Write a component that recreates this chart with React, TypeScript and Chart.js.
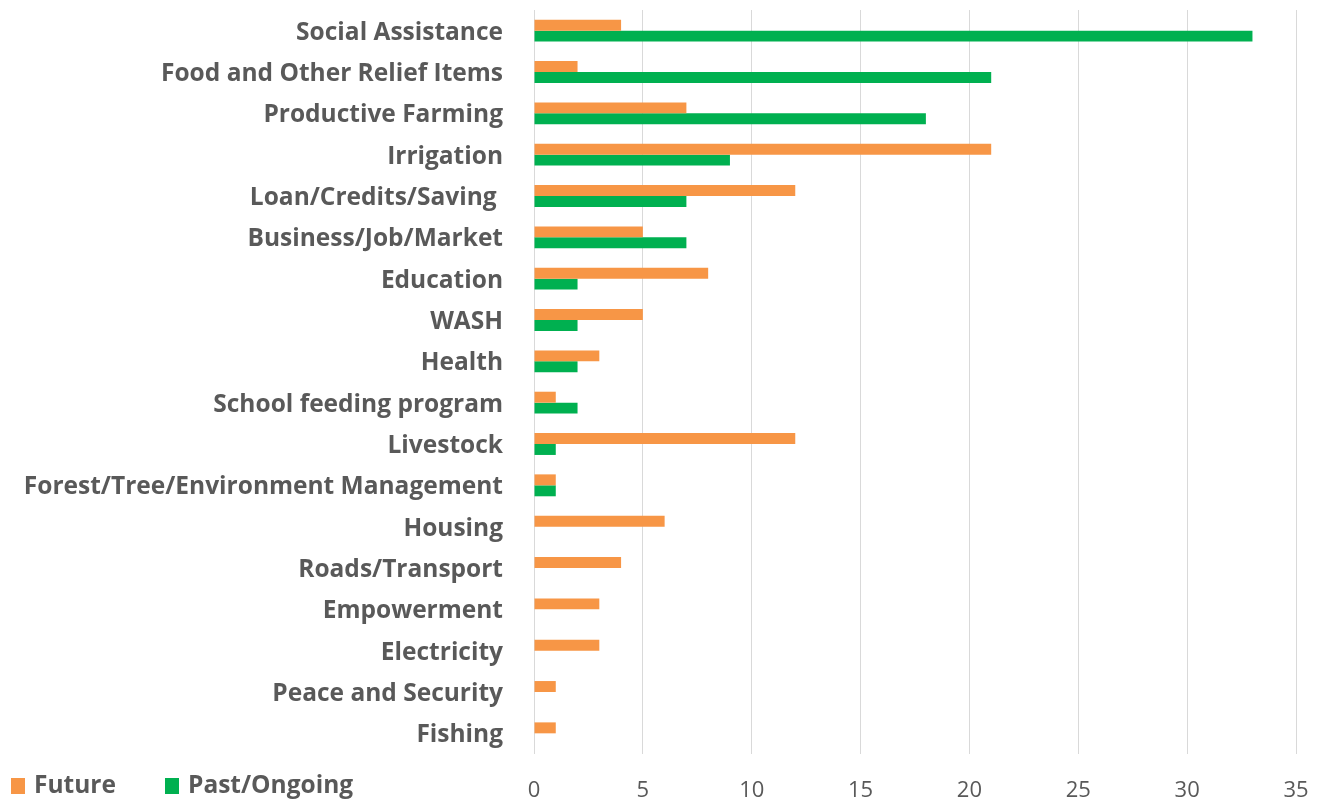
import React, { useEffect, useRef } from "react";
import { Chart, registerables } from "chart.js";

Chart.register(...registerables);

const categories = [
  "Social Assistance",
  "Food and Other Relief Items",
  "Productive Farming",
  "Irrigation",
  "Loan/Credits/Saving ",
  "Business/Job/Market",
  "Education",
  "WASH",
  "Health",
  "School feeding program",
  "Livestock",
  "Forest/Tree/Environment Management",
  "Housing",
  "Roads/Transport",
  "Empowerment",
  "Electricity",
  "Peace and Security",
  "Fishing",
];

const futureValues = [4, 2, 7, 21, 12, 5, 8, 5, 3, 1, 12, 1, 6, 4, 3, 3, 1, 1];
const pastValues = [33, 21, 18, 9, 7, 7, 2, 2, 2, 2, 1, 1, null, null, null, null, null, null];

const seriesLabels = ["Future", "Past/Ongoing"];
const seriesColors = ["#F79646", "#00B050"];

const xTicks = [0, 5, 10, 15, 20, 25, 30, 35];

const FONT = "'Open Sans', Lato, sans-serif";
const TEXT_COLOR = "#595959";

const bottomLegend = {
  id: "bottomLegend",
  afterDraw(chart: any) {
    const ctx = chart.ctx;
    const y = 786;
    const items = [
      { x: 11, textX: 34 },
      { x: 165, textX: 188 },
    ];
    ctx.save();
    ctx.font = `bold 24.5px ${FONT}`;
    ctx.textBaseline = "middle";
    ctx.textAlign = "left";
    chart.data.datasets.forEach((ds: any, i: number) => {
      const it = items[i];
      ctx.fillStyle = ds.backgroundColor;
      ctx.fillRect(it.x, y - 8, 14, 16);
      ctx.fillStyle = TEXT_COLOR;
      ctx.fillText(ds.label, it.textX, y);
    });
    ctx.restore();
  },
};

export default function App() {
  const canvasRef = useRef<HTMLCanvasElement | null>(null);

  useEffect(() => {
    if (!canvasRef.current) return;
    const chart = new Chart(canvasRef.current, {
      type: "bar",
      data: {
        labels: categories,
        datasets: [
          {
            label: seriesLabels[0],
            data: futureValues,
            backgroundColor: seriesColors[0],
            borderWidth: 0,
            categoryPercentage: 0.53,
            barPercentage: 1,
          },
          {
            label: seriesLabels[1],
            data: pastValues,
            backgroundColor: seriesColors[1],
            borderWidth: 0,
            categoryPercentage: 0.53,
            barPercentage: 1,
          },
        ],
      },
      options: {
        indexAxis: "y",
        responsive: true,
        maintainAspectRatio: false,
        animation: false,
        layout: { padding: { top: 10, right: 27, bottom: 0, left: 0 } },
        plugins: {
          legend: { display: false },
          tooltip: { enabled: false },
        },
        scales: {
          x: {
            min: 0,
            max: 35,
            afterBuildTicks(scale: any) {
              scale.ticks = xTicks.map((v) => ({ value: v }));
            },
            afterFit(scale: any) {
              scale.height = 49;
              scale.paddingTop = 0;
              scale.paddingBottom = 0;
              scale.paddingLeft = 0;
              scale.paddingRight = 0;
            },
            grid: { color: "#D9D9D9", lineWidth: 1, drawTicks: false },
            border: { display: false },
            ticks: {
              color: TEXT_COLOR,
              font: { family: FONT, size: 22 },
              padding: 24,
            },
          },
          y: {
            afterFit(scale: any) {
              scale.width = 534;
              scale.paddingTop = 0;
              scale.paddingBottom = 0;
            },
            grid: { display: false, drawTicks: false },
            border: { display: false },
            ticks: {
              color: TEXT_COLOR,
              font: { family: FONT, size: 24.5, weight: "bold" },
              padding: 31,
              labelOffset: 2,
              autoSkip: false,
            },
          },
        },
      },
      plugins: [bottomLegend],
    });
    return () => chart.destroy();
  }, []);

  return (
    <div style={{ position: "fixed", left: 0, top: 0, width: 1323, height: 803, background: "#fff" }}>
      <canvas ref={canvasRef} />
    </div>
  );
}
